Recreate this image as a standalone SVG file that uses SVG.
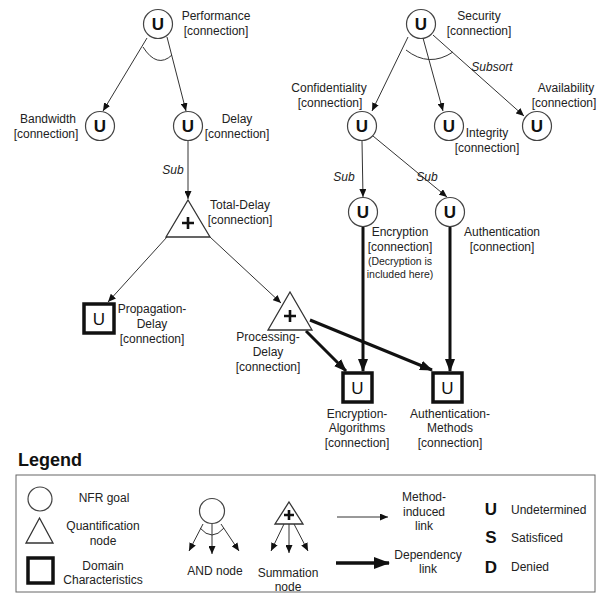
<svg xmlns="http://www.w3.org/2000/svg" width="611" height="594" viewBox="0 0 611 594">
<style>
.t{font-family:"Liberation Sans",Arial,sans-serif;font-size:12px;fill:#222;text-anchor:middle}
.s{font-size:10.5px}
.i{font-style:italic}
.u{font-family:"Liberation Sans",Arial,sans-serif;font-size:17px;font-weight:bold;fill:#111;text-anchor:middle}
.un{font-family:"Liberation Sans",Arial,sans-serif;font-size:17px;fill:#111;text-anchor:middle}
.g{fill:#fff;stroke:#444;stroke-width:1.2}
.q{fill:#fff;stroke:#333;stroke-width:1.3}
.d{fill:#fff;stroke:#111;stroke-width:3.5}
.p{stroke:#111;stroke-width:2.6;fill:none}
.ln{stroke:#333;stroke-width:1;fill:none}
.th{stroke:#111;stroke-width:3;fill:none}
.l{font-family:"Liberation Sans",Arial,sans-serif;font-size:12px;fill:#222}
</style>
<defs>
<marker id="a" markerUnits="userSpaceOnUse" markerWidth="8" markerHeight="7" refX="8" refY="3.5" orient="auto"><path d="M0,0 L8,3.5 L0,7 z" fill="#111"/></marker>
<marker id="b" markerUnits="userSpaceOnUse" markerWidth="13" markerHeight="10" refX="12" refY="5" orient="auto"><path d="M0,0 L13,5 L0,10 z" fill="#111"/></marker>
<marker id="c" markerUnits="userSpaceOnUse" markerWidth="16" markerHeight="12" refX="15" refY="6" orient="auto"><path d="M0,0 L16,6 L0,12 z" fill="#111"/></marker>
</defs>

<g id="connectors">
<path class="ln" d="M147,38 L103,111" marker-end="url(#a)"/>
<path class="ln" d="M167,37 L186,111" marker-end="url(#a)"/>
<path class="ln" d="M143,47 Q157,69 172,55"/>
<path class="ln" d="M188,141 L188,199" marker-end="url(#a)"/>
<text class="t i" x="173" y="174">Sub</text>
<path class="ln" d="M167,237 L108,302" marker-end="url(#a)"/>
<path class="ln" d="M210,237 L281,303" marker-end="url(#a)"/>
<path class="ln" d="M408,37 L372,111" marker-end="url(#a)"/>
<path class="ln" d="M423,38 L443,111" marker-end="url(#a)"/>
<path class="ln" d="M433,35 L524,116" marker-end="url(#a)"/>
<path class="ln" d="M406,50 Q429,68 453,52"/>
<text class="t i" x="492" y="71">Subsort</text>
<path class="ln" d="M362,141 L363,197" marker-end="url(#a)"/>
<path class="ln" d="M373,136 L447,197" marker-end="url(#a)"/>
<text class="t i" x="344" y="181">Sub</text>
<text class="t i" x="427" y="181">Sub</text>
<path class="th" d="M363,227 L363,371" marker-end="url(#b)"/>
<path class="th" d="M450,227 L450,371" marker-end="url(#b)"/>
<path class="th" d="M306,331 L346,371" marker-end="url(#b)"/>
<path class="th" d="M310,320 L432,370" marker-end="url(#b)"/>
</g>

<g id="performance">
<circle class="g" cx="158" cy="24" r="14.5"/>
<text class="u" x="158" y="30">U</text>
<text class="t" x="216" y="20">Performance</text>
<text class="t" x="216" y="35">[connection]</text>
</g>
<g id="bandwidth">
<circle class="g" cx="100" cy="126" r="14.5"/>
<text class="u" x="100" y="132">U</text>
<text class="t" x="48" y="123">Bandwidth</text>
<text class="t" x="46" y="138">[connection]</text>
</g>
<g id="delay">
<circle class="g" cx="188" cy="126" r="14.5"/>
<text class="u" x="188" y="132">U</text>
<text class="t" x="237" y="123">Delay</text>
<text class="t" x="237" y="138">[connection]</text>
</g>
<g id="total-delay">
<path class="q" d="M188,200 L210,237 L166,237 z"/>
<path class="p" d="M182,223 H194 M188,217 V229"/>
<text class="t" x="240" y="209">Total-Delay</text>
<text class="t" x="240" y="224">[connection]</text>
</g>
<g id="propagation-delay">
<rect class="d" x="84" y="304" width="30" height="29"/>
<text class="un" x="99" y="325">U</text>
<text class="t" x="152" y="313">Propagation-</text>
<text class="t" x="152" y="328">Delay</text>
<text class="t" x="152" y="343">[connection]</text>
</g>
<g id="processing-delay">
<path class="q" d="M290,292 L312,330 L268,330 z"/>
<path class="p" d="M284,316 H296 M290,310 V322"/>
<text class="t" x="268" y="341">Processing-</text>
<text class="t" x="268" y="356">Delay</text>
<text class="t" x="268" y="371">[connection]</text>
</g>
<g id="security">
<circle class="g" cx="421" cy="24" r="14.5"/>
<text class="u" x="421" y="30">U</text>
<text class="t" x="479" y="20">Security</text>
<text class="t" x="479" y="35">[connection]</text>
</g>
<g id="confidentiality">
<circle class="g" cx="362" cy="126" r="14.5"/>
<text class="u" x="362" y="132">U</text>
<text class="t" x="329" y="92">Confidentiality</text>
<text class="t" x="330" y="107">[connection]</text>
</g>
<g id="integrity">
<circle class="g" cx="449" cy="126" r="14.5"/>
<text class="u" x="449" y="132">U</text>
<text class="t" x="487" y="137">Integrity</text>
<text class="t" x="487" y="152">[connection]</text>
</g>
<g id="availability">
<circle class="g" cx="537" cy="126" r="14.5"/>
<text class="u" x="537" y="132">U</text>
<text class="t" x="566" y="92">Availability</text>
<text class="t" x="564" y="107">[connection]</text>
</g>
<g id="encryption">
<circle class="g" cx="363" cy="212" r="14.5"/>
<text class="u" x="363" y="218">U</text>
<text class="t" x="400" y="236">Encryption</text>
<text class="t" x="400" y="251">[connection]</text>
<text class="t s" x="400" y="265">(Decryption is</text>
<text class="t s" x="400" y="278">included here)</text>
</g>
<g id="authentication">
<circle class="g" cx="450" cy="212" r="14.5"/>
<text class="u" x="450" y="218">U</text>
<text class="t" x="502" y="236">Authentication</text>
<text class="t" x="502" y="251">[connection]</text>
</g>
<g id="encryption-algorithms">
<rect class="d" x="343" y="373" width="29" height="29"/>
<text class="un" x="357.5" y="394">U</text>
<text class="t" x="357" y="418">Encryption-</text>
<text class="t" x="357" y="432">Algorithms</text>
<text class="t" x="357" y="447">[connection]</text>
</g>
<g id="authentication-methods">
<rect class="d" x="433" y="373" width="29" height="29"/>
<text class="un" x="447.5" y="394">U</text>
<text class="t" x="450" y="418">Authentication-</text>
<text class="t" x="450" y="432">Methods</text>
<text class="t" x="450" y="447">[connection]</text>
</g>

<g id="legend">
<text x="18" y="466" style="font-family:'Liberation Sans',Arial,sans-serif;font-size:18px;font-weight:bold;fill:#111">Legend</text>
<rect x="16" y="475" width="579" height="117" fill="none" stroke="#666" stroke-width="1"/>
<circle class="g" cx="40" cy="499" r="12"/>
<text class="t" x="104" y="502">NFR goal</text>
<path class="q" d="M39.5,518 L53,543 L26,543 z"/>
<text class="t" x="103" y="530">Quantification</text>
<text class="t" x="103" y="545">node</text>
<rect class="d" x="28" y="558" width="25" height="25"/>
<text class="t" x="103" y="570">Domain</text>
<text class="t" x="103" y="584">Characteristics</text>
<circle class="g" cx="212" cy="511" r="12.5"/>
<path class="ln" d="M203,524 L189,551" marker-end="url(#a)"/>
<path class="ln" d="M212,524 L212,554" marker-end="url(#a)"/>
<path class="ln" d="M221,524 L239,551" marker-end="url(#a)"/>
<path class="ln" d="M200,528 Q212,542 224,528"/>
<text class="t" x="215" y="575">AND node</text>
<path class="q" d="M289,502 L303,524 L275,524 z"/>
<path class="p" d="M284,515 H294 M289,510 V520"/>
<path class="ln" d="M284,524 L271,551" marker-end="url(#a)"/>
<path class="ln" d="M289,524 L289,553" marker-end="url(#a)"/>
<path class="ln" d="M294,524 L308,551" marker-end="url(#a)"/>
<text class="t" x="288" y="577">Summation</text>
<text class="t" x="288" y="591">node</text>
<path class="ln" d="M337,517 L388,517" marker-end="url(#a)"/>
<text class="t" x="424" y="501">Method-</text>
<text class="t" x="424" y="516">induced</text>
<text class="t" x="424" y="530">link</text>
<path d="M336,563 L389,563" stroke="#111" stroke-width="3.5" marker-end="url(#c)"/>
<text class="t" x="428" y="559">Dependency</text>
<text class="t" x="428" y="573">link</text>
<text class="u" x="491" y="515">U</text>
<text class="l" x="511" y="514">Undetermined</text>
<text class="u" x="491" y="543">S</text>
<text class="l" x="511" y="542">Satisficed</text>
<text class="u" x="491" y="573">D</text>
<text class="l" x="511" y="571">Denied</text>
</g>
</svg>
